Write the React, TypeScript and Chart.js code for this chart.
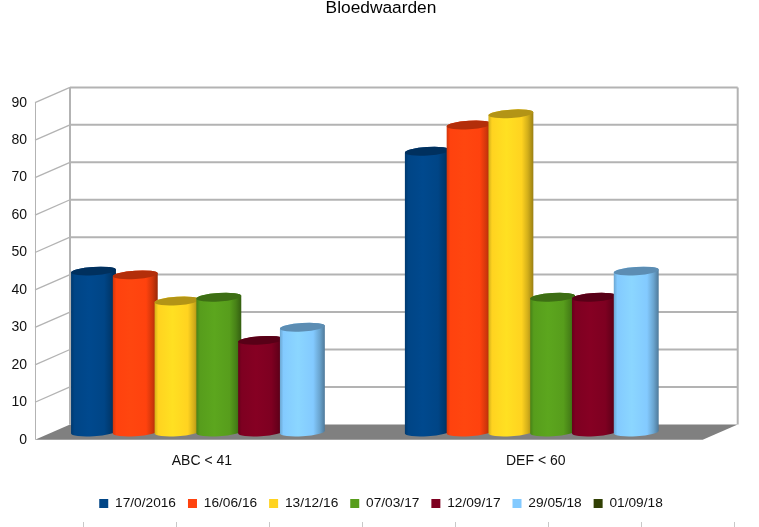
import React, { useEffect, useRef } from "react";
import { Chart, registerables } from "chart.js";

Chart.register(...registerables);

const categories = ["ABC < 41", "DEF < 60"];
const seriesNames = ["17/0/2016", "16/06/16", "13/12/16", "07/03/17", "12/09/17", "29/05/18", "01/09/18"];
const series1 = [43, 75];
const series2 = [42, 82];
const series3 = [35, 85];
const series4 = [36, 36];
const series5 = [24.5, 36];
const series6 = [28, 43];
const series7: (number | null)[] = [null, null];
const colours = ["#004586", "#ff420e", "#ffd320", "#579d1c", "#7e0021", "#83caff", "#314004"];
const yTicks = [0, 10, 20, 30, 40, 50, 60, 70, 80, 90];
const bottomMarks = [83, 176, 269, 362, 455, 548, 641, 734];

const FONT = "'Liberation Sans', Arial, sans-serif";
const DX = 35;
const DY = 15.3;
const WALL = "#b3b3b3";

function shade(hex: string, f: number) {
  const n = parseInt(hex.slice(1), 16);
  const c = (v: number) => Math.min(255, Math.round(v * f));
  return `rgb(${c((n >> 16) & 255)},${c((n >> 8) & 255)},${c(n & 255)})`;
}

const scene3d = {
  id: "scene3d",
  beforeDatasetsDraw(chart: any) {
    const ctx = chart.ctx as CanvasRenderingContext2D;
    const { left, right, top, bottom } = chart.chartArea;
    const y = chart.scales.y;
    ctx.save();
    // floor
    ctx.fillStyle = "#808080";
    ctx.beginPath();
    ctx.moveTo(left, bottom);
    ctx.lineTo(right, bottom);
    ctx.lineTo(right + DX, bottom - DY);
    ctx.lineTo(left + DX, bottom - DY);
    ctx.closePath();
    ctx.fill();
    // left wall outline and diagonals
    ctx.strokeStyle = WALL;
    ctx.lineWidth = 1;
    ctx.beginPath();
    ctx.moveTo(left + 0.5, top);
    ctx.lineTo(left + 0.5, bottom);
    ctx.stroke();
    ctx.lineWidth = 1.3;
    yTicks.forEach((t) => {
      const py = y.getPixelForValue(t);
      if (t === 0) return;
      ctx.beginPath();
      ctx.moveTo(left, py);
      ctx.lineTo(left + DX, py - DY);
      ctx.stroke();
    });
    // back wall
    ctx.lineWidth = 2;
    yTicks.forEach((t) => {
      if (t === 0) return;
      const py = y.getPixelForValue(t) - DY;
      ctx.beginPath();
      ctx.moveTo(left + DX, py);
      ctx.lineTo(right + DX, py);
      ctx.stroke();
    });
    ctx.beginPath();
    ctx.moveTo(left + DX, top - DY);
    ctx.lineTo(left + DX, bottom - DY);
    ctx.moveTo(right + DX, top - DY);
    ctx.lineTo(right + DX, bottom - DY);
    ctx.stroke();

    // cylinders, earlier datasets first so that later ones overlap them
    const rot = -0.065;
    chart.data.datasets.forEach((ds: any, i: number) => {
      const meta = chart.getDatasetMeta(i);
      const base = colours[i];
      meta.data.forEach((bar: any, j: number) => {
        if (ds.data[j] == null) return;
        const cx = bar.x + DX * 0.483;
        const rx = bar.width / 2;
        const ry = 4.2;
        const yTop = bar.y - 7.6;
        const yBase = bar.base - 7.6;
        const g = ctx.createLinearGradient(cx - rx, 0, cx + rx, 0);
        g.addColorStop(0, shade(base, 0.82));
        g.addColorStop(0.08, shade(base, 1));
        g.addColorStop(0.4, shade(base, 1.06));
        g.addColorStop(0.74, shade(base, 1));
        g.addColorStop(0.88, shade(base, 0.82));
        g.addColorStop(1, shade(base, 0.6));
        ctx.fillStyle = g;
        ctx.beginPath();
        ctx.ellipse(cx, yTop, rx, ry, rot, Math.PI, 2 * Math.PI);
        ctx.ellipse(cx, yBase, rx, ry, rot, 0, Math.PI);
        ctx.closePath();
        ctx.fill();
        ctx.fillStyle = shade(base, 0.7);
        ctx.beginPath();
        ctx.ellipse(cx, yTop, rx, ry, rot, 0, 2 * Math.PI);
        ctx.fill();
      });
    });

    // small page marks along the bottom edge
    ctx.strokeStyle = "#c8c8c8";
    ctx.lineWidth = 1;
    bottomMarks.forEach((x) => {
      ctx.beginPath();
      ctx.moveTo(x + 0.5, 522);
      ctx.lineTo(x + 0.5, 527);
      ctx.stroke();
    });
    ctx.restore();
    return false;
  },
};

export default function App() {
  const ref = useRef<HTMLCanvasElement>(null);
  useEffect(() => {
    const values = [series1, series2, series3, series4, series5, series6, series7];
    const chart = new Chart(ref.current!, {
      type: "bar",
      data: {
        labels: categories,
        datasets: seriesNames.map((name, i) => ({
          label: name,
          data: values[i],
          backgroundColor: colours[i],
          borderWidth: 0,
          categoryPercentage: 0.876,
          barPercentage: 1.077,
        })),
      },
      options: {
        responsive: false,
        animation: false,
        devicePixelRatio: 1,
        layout: { padding: { left: 3, right: 0, top: 0, bottom: 6.7 } },
        plugins: {
          title: {
            display: true,
            text: "Bloedwaarden",
            color: "#000",
            font: { family: FONT, size: 17.33, weight: "normal" },
            padding: { top: -2.4, bottom: 84.3 },
          },
          legend: {
            position: "bottom",
            labels: {
              color: "#111",
              font: { family: FONT, size: 13.7 },
              boxWidth: 9,
              boxHeight: 9,
              padding: 12,
            },
          },
          tooltip: { enabled: false },
        },
        scales: {
          x: {
            grid: { display: false, drawTicks: false },
            border: { display: false },
            afterFit: (s: any) => { s.height = 44.9; },
            ticks: { color: "#111", font: { family: FONT, size: 14 }, padding: 13.5, maxRotation: 0 },
          },
          y: {
            min: 0,
            max: 90,
            grid: { display: false, drawTicks: false },
            border: { display: false },
            afterFit: (s: any) => { s.width = 32; },
            ticks: { stepSize: 10, color: "#111", font: { family: FONT, size: 14 }, padding: 8 },
          },
          spare: {
            position: "right",
            grid: { display: false, drawTicks: false },
            border: { display: false },
            ticks: { display: false },
            afterFit: (s: any) => { s.width = 56.3; },
          },
        },
      } as any,
      plugins: [scene3d as any],
    });
    return () => chart.destroy();
  }, []);
  return (
    <canvas
      ref={ref}
      width={759}
      height={527}
      style={{ position: "fixed", left: 0, top: 0, width: 759, height: 527, display: "block", background: "#fff" }}
    />
  );
}
